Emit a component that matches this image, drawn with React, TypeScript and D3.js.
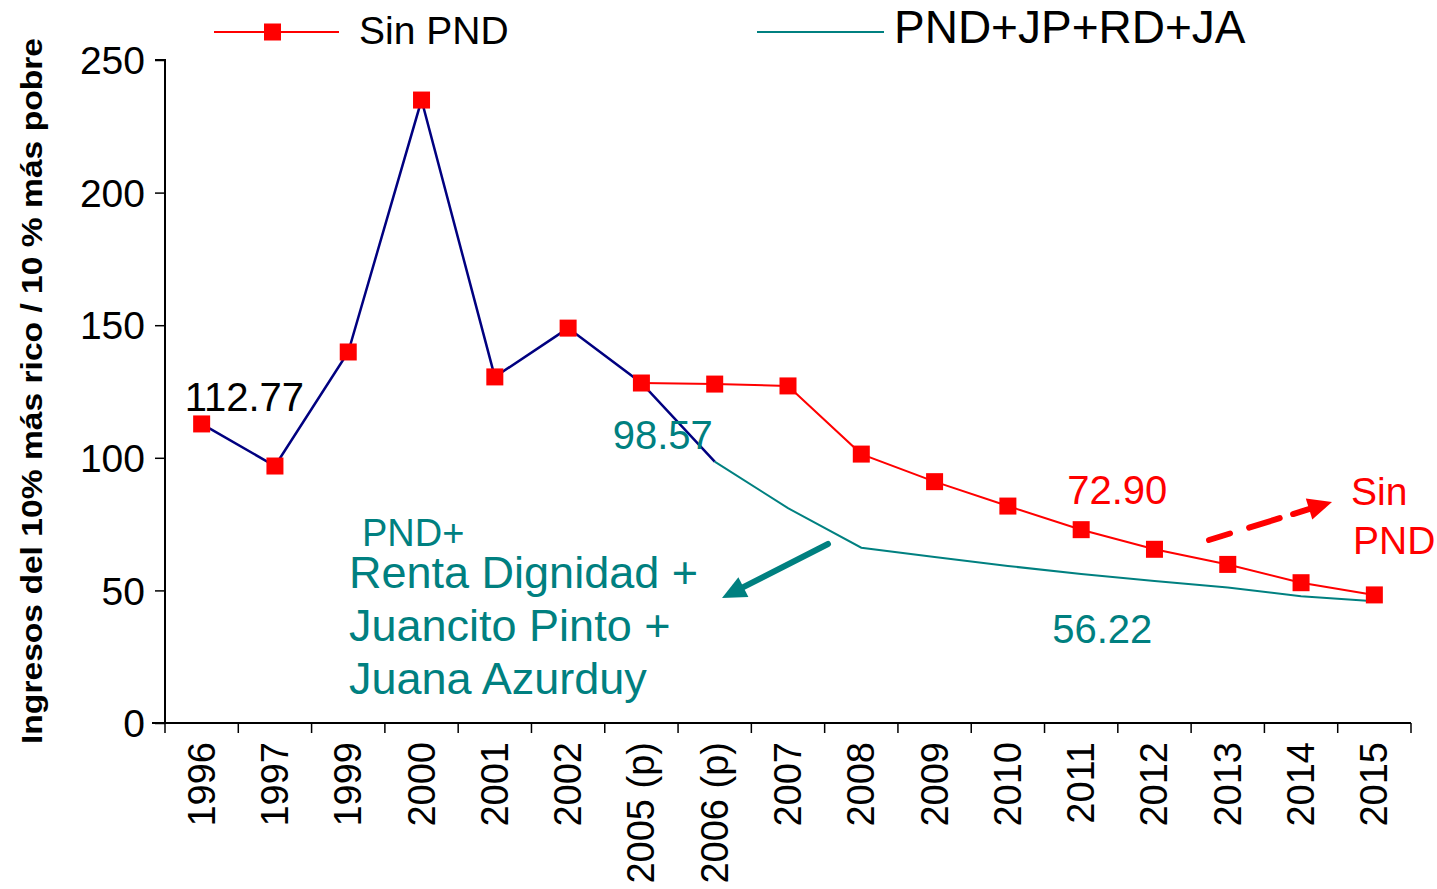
import * as d3 from 'd3';
import { useEffect, useRef } from 'react';

const categories = ['1996', '1997', '1999', '2000', '2001', '2002', '2005 (p)', '2006 (p)', '2007', '2008', '2009', '2010', '2011', '2012', '2013', '2014', '2015'];
// serie historica 1996 - 2006 (p)
const historico = [112.77, 96.9, 139.9, 234.9, 130.5, 148.9, 128.2, 98.57];
// Sin PND, 2005 (p) - 2015
const sinPnd = [128.2, 127.8, 127.1, 101.4, 91.0, 81.8, 72.9, 65.5, 59.8, 52.9, 48.3];
// PND+JP+RD+JA, 2006 (p) - 2015
const pnd = [98.57, 81.0, 66.1, 62.6, 59.2, 56.22, 53.5, 51.1, 47.8, 45.9];
const yTicks = [0, 50, 100, 150, 200, 250];

const FONT = 'Liberation Sans, Arial, sans-serif';
const RED = '#ff0000';
const TEAL = '#008080';
const NAVY = '#000080';

export default function App() {
  const ref = useRef<SVGSVGElement | null>(null);

  useEffect(() => {
    const svg = d3.select(ref.current);
    svg.selectAll('*').remove();

    const x = d3.scaleBand().domain(categories).range([165, 1411]);
    const y = d3.scaleLinear().domain([0, 250]).range([723, 60]);
    const cx = (c: string) => (x(c) || 0) + x.bandwidth() / 2;

    // y axis
    const yAxis = svg.append('g')
      .attr('transform', 'translate(165,0)')
      .call(d3.axisLeft(y).tickValues(yTicks).tickSize(10).tickPadding(10));
    yAxis.select('.domain').attr('stroke', '#000').attr('stroke-width', 2).attr('d', 'M-10,60H0V723');
    yAxis.selectAll('.tick line').attr('stroke-width', 1.5);
    yAxis.selectAll('.tick text')
      .attr('font-family', FONT).attr('font-size', 39).attr('fill', '#000').attr('dy', '0.35em');

    // x axis
    svg.append('line')
      .attr('x1', 152).attr('x2', 1411).attr('y1', 723).attr('y2', 723)
      .attr('stroke', '#000').attr('stroke-width', 2);
    const bounds = categories.map((c) => x(c) || 0).concat([x.range()[1]]);
    svg.selectAll('.xtick').data(bounds).enter().append('line')
      .attr('x1', (d) => d).attr('x2', (d) => d).attr('y1', 723).attr('y2', 733)
      .attr('stroke', '#000').attr('stroke-width', 1.5);
    svg.selectAll('.xlabel').data(categories).enter().append('text')
      .attr('transform', (d) => `translate(${cx(d) + 13},742) rotate(-90)`)
      .attr('text-anchor', 'end')
      .attr('font-family', FONT).attr('font-size', 38)
      .text((d) => d);

    // y title
    svg.append('text')
      .attr('transform', 'translate(42,391) rotate(-90)')
      .attr('text-anchor', 'middle')
      .attr('font-family', 'Liberation Sans Narrow, ' + FONT)
      .attr('font-weight', 'bold').attr('font-size', 30)
      .attr('textLength', 706).attr('lengthAdjust', 'spacingAndGlyphs')
      .text('Ingresos del 10% más rico / 10 % más pobre');

    const line = d3.line<[string, number]>().x((d) => cx(d[0])).y((d) => y(d[1]));
    const histPts = historico.map((v, i) => [categories[i], v] as [string, number]);
    const sinPts = sinPnd.map((v, i) => [categories[i + 6], v] as [string, number]);
    const pndPts = pnd.map((v, i) => [categories[i + 7], v] as [string, number]);

    svg.append('path').datum(histPts).attr('d', line)
      .attr('fill', 'none').attr('stroke', NAVY).attr('stroke-width', 2.5);
    svg.append('path').datum(pndPts).attr('d', line)
      .attr('fill', 'none').attr('stroke', TEAL).attr('stroke-width', 2);
    svg.append('path').datum(sinPts).attr('d', line)
      .attr('fill', 'none').attr('stroke', RED).attr('stroke-width', 2);

    const markers = histPts.slice(0, 7).concat(sinPts.slice(1));
    svg.selectAll('.mk').data(markers).enter().append('rect')
      .attr('x', (d) => cx(d[0]) - 8.5).attr('y', (d) => y(d[1]) - 8.5)
      .attr('width', 17).attr('height', 17).attr('fill', RED);

    // legend
    svg.append('line').attr('x1', 214).attr('x2', 339).attr('y1', 32).attr('y2', 32)
      .attr('stroke', RED).attr('stroke-width', 2);
    svg.append('rect').attr('x', 264).attr('y', 23.5).attr('width', 17).attr('height', 17).attr('fill', RED);
    svg.append('text').attr('x', 359).attr('y', 44).attr('font-family', FONT).attr('font-size', 39).text('Sin PND');
    svg.append('line').attr('x1', 757).attr('x2', 884).attr('y1', 32).attr('y2', 32)
      .attr('stroke', TEAL).attr('stroke-width', 2);
    svg.append('text').attr('x', 894).attr('y', 43).attr('font-family', FONT).attr('font-size', 46).text('PND+JP+RD+JA');

    // value labels
    const lbl = (tx: number, ty: number, t: string, color: string, size = 39) =>
      svg.append('text').attr('x', tx).attr('y', ty).attr('font-family', FONT)
        .attr('font-size', size).attr('fill', color).text(t);
    lbl(cx('1996') - 17, y(historico[0]) - 13, '112.77', '#000', 40);
    lbl(cx('2006 (p)') - 102, y(pnd[0]) - 13, '98.57', TEAL, 40);
    lbl(cx('2011') - 14, y(sinPnd[6]) - 26, '72.90', RED, 40);
    lbl(cx('2011') - 29, y(pnd[5]) + 69, '56.22', TEAL, 40);
    lbl(1351, 505, 'Sin', RED);
    lbl(1353, 554, 'PND', RED);
    lbl(362, 546, 'PND+', TEAL, 38);
    lbl(349, 588, 'Renta Dignidad +', TEAL, 45);
    lbl(349, 641, 'Juancito Pinto +', TEAL, 45);
    lbl(349, 694, 'Juana Azurduy', TEAL, 45);

    // arrows
    const arrow = (x1: number, y1: number, x2: number, y2: number, color: string, dash: string | null) => {
      const a = Math.atan2(y2 - y1, x2 - x1);
      const len = 24, half = 11;
      const bx = x2 - len * Math.cos(a), by = y2 - len * Math.sin(a);
      svg.append('line').attr('x1', x1).attr('y1', y1).attr('x2', bx + 4 * Math.cos(a)).attr('y2', by + 4 * Math.sin(a))
        .attr('stroke', color).attr('stroke-width', 6).attr('stroke-linecap', 'round')
        .attr('stroke-dasharray', dash);
      const pts = [
        [x2, y2],
        [bx + half * Math.sin(a), by - half * Math.cos(a)],
        [bx - half * Math.sin(a), by + half * Math.cos(a)],
      ];
      svg.append('polygon').attr('points', pts.map((p) => p.join(',')).join(' ')).attr('fill', color);
    };
    arrow(828, 544, 722, 598, TEAL, null);
    arrow(1209, 540, 1332, 502, RED, '22 20 32 14');
  }, []);

  return (
    <div style={{ position: 'absolute', left: 0, top: 0 }}>
      <svg ref={ref} width={1437} height={889} style={{ display: 'block', background: '#fff' }} />
    </div>
  );
}
